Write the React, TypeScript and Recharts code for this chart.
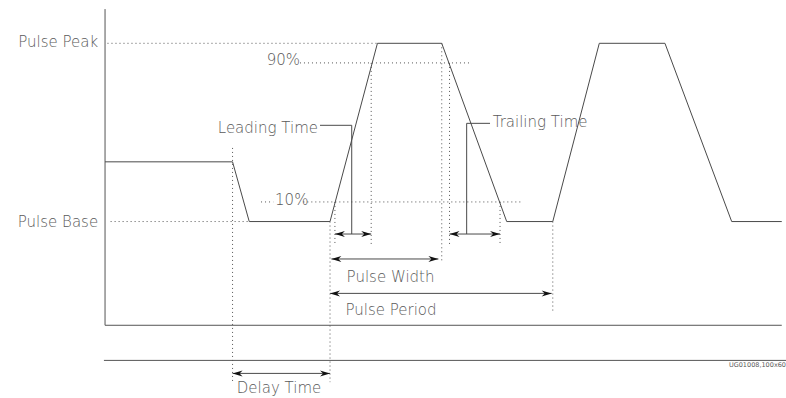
import React from 'react';
import { LineChart, Line, XAxis, YAxis, ReferenceLine, ReferenceDot } from 'recharts';

const CHART_W = 786;
const CHART_H = 398;
const TIME_DOMAIN: [number, number] = [-148.3, 204.9];
const LEVEL_DOMAIN: [number, number] = [-99, 124.3];

// Waveform (time units: pulse period = 100, level in % of pulse amplitude)
const waveTime = [-101.1, -43.8, -36.3, 0, 21.3, 50.2, 79.4, 100.1, 121, 150.5, 180.5, 203];
const waveLevel = [33.5, 33.5, 0, 0, 100, 100, 0, 0, 100, 100, 0, 0];

// Frame lines [t1, level1, t2, level2]
const frameLines: number[][] = [
  [-101.1, 119.2, -101.1, -58.2],
  [-101.1, -58.2, 203, -58.2],
  [-101.6, -77.9, 204.9, -77.9],
];

// Dotted guide lines
const guideLines: number[][] = [
  [-100, 100, 21.3, 100],
  [-13.5, 89, 63.7, 89],
  [-31, 11, -25.5, 11],
  [-12, 11, 86.7, 11],
  [-98.6, 0, -36.3, 0],
  [-43.8, 41.3, -43.8, -90.1],
  [0, 0, 0, -90.1],
  [2.2, 11, 2.2, -13.2],
  [18.5, 89, 18.5, -14],
  [50.2, 100, 50.2, -23.3],
  [53.7, 89, 53.7, -13.2],
  [76.4, 11, 76.4, -13.2],
  [100.1, 0, 100.1, -51.3],
];

// Double-headed dimension arrows
const arrowLines: number[][] = [
  [2.2, -7, 18.5, -7],
  [53.7, -7, 76.4, -7],
  [0.6, -21, 48.7, -21],
  [0, -40.3, 99.6, -40.3],
  [-43.8, -85.2, 0, -85.2],
];

// Leader lines for labels
const leaderLines: number[][] = [
  [-4.5, 54, 9.75, 54],
  [9.75, 54, 9.75, -7],
  [61.4, 55.1, 71.9, 55.1],
  [61.4, 55.1, 61.4, -7],
];

// Text labels
const labelText = ['Pulse Peak', 'Pulse Base', '90%', '10%', 'Leading Time', 'Trailing Time', 'Pulse Width', 'Pulse Period', 'Delay Time'];
const labelTime = [-104.2, -104.2, -13.5, -24.7, -5.4, 73.1, 27.2, 27.4, -22.9];
const labelLevel = [97.8, -2.9, 87.8, 9.3, 49.8, 53, -33.8, -52.5, -96.4];
const labelAnchor = ['end', 'end', 'end', 'start', 'end', 'start', 'middle', 'middle', 'middle'];

const codeText = 'UG01008,100x60';
const codeTime = 204.9;
const codeLevel = -81.6;

const waveData = waveTime.map((t, i) => ({ t, level: waveLevel[i] }));

const LINE_COLOR = '#4a4a4a';
const TEXT_COLOR = '#5a5a5a';
const FONT = '"DejaVu Sans", sans-serif';

const ArrowShape = (p: any) => {
  const { x1, y1, x2, y2 } = p;
  const a = Math.min(x1, x2);
  const b = Math.max(x1, x2);
  const y = y1;
  const L = 10;
  const h = 3;
  const n = 7;
  return (
    <g>
      <line x1={a} y1={y} x2={b} y2={y2} stroke={LINE_COLOR} strokeWidth={1} />
      <polygon points={`${a},${y} ${a + L},${y - h} ${a + n},${y} ${a + L},${y + h}`} fill="#111" />
      <polygon points={`${b},${y} ${b - L},${y - h} ${b - n},${y} ${b - L},${y + h}`} fill="#111" />
    </g>
  );
};

const seg = (s: number[]) => [
  { x: s[0], y: s[1] },
  { x: s[2], y: s[3] },
];

export default function App() {
  return (
    <div style={{ position: 'absolute', left: 0, top: 0, background: '#fff' }}>
      <LineChart
        width={CHART_W}
        height={CHART_H}
        data={waveData}
        margin={{ top: 0, right: 0, bottom: 0, left: 0 }}
      >
        <XAxis dataKey="t" type="number" domain={TIME_DOMAIN} allowDataOverflow hide />
        <YAxis type="number" domain={LEVEL_DOMAIN} allowDataOverflow hide />
        {frameLines.map((s, i) => (
          <ReferenceLine key={'f' + i} segment={seg(s) as any} stroke="#555" strokeWidth={1} ifOverflow="visible" />
        ))}
        {guideLines.map((s, i) => (
          <ReferenceLine key={'g' + i} segment={seg(s) as any} stroke="#555" strokeWidth={1} strokeDasharray="1 3" ifOverflow="visible" />
        ))}
        {leaderLines.map((s, i) => (
          <ReferenceLine key={'l' + i} segment={seg(s) as any} stroke={LINE_COLOR} strokeWidth={1} ifOverflow="visible" />
        ))}
        {arrowLines.map((s, i) => (
          <ReferenceLine key={'a' + i} segment={seg(s) as any} ifOverflow="visible" shape={ArrowShape} />
        ))}
        <Line
          dataKey="level"
          type="linear"
          stroke={LINE_COLOR}
          strokeWidth={1}
          dot={false}
          activeDot={false}
          isAnimationActive={false}
        />
        {labelText.map((txt, i) => (
          <ReferenceDot
            key={'t' + i}
            x={labelTime[i]}
            y={labelLevel[i]}
            r={0}
            ifOverflow="visible"
            shape={(p: any) => (
              <text
                x={p.cx}
                y={p.cy}
                textAnchor={labelAnchor[i] as any}
                fontFamily={FONT}
                fontSize={15}
                fontWeight={300}
                fill={TEXT_COLOR}
              >
                {txt}
              </text>
            )}
          />
        ))}
        <ReferenceDot
          x={codeTime}
          y={codeLevel}
          r={0}
          ifOverflow="visible"
          shape={(p: any) => (
            <text x={p.cx} y={p.cy} textAnchor="end" fontFamily={FONT} fontSize={6.5} fill={TEXT_COLOR}>
              {codeText}
            </text>
          )}
        />
      </LineChart>
    </div>
  );
}
